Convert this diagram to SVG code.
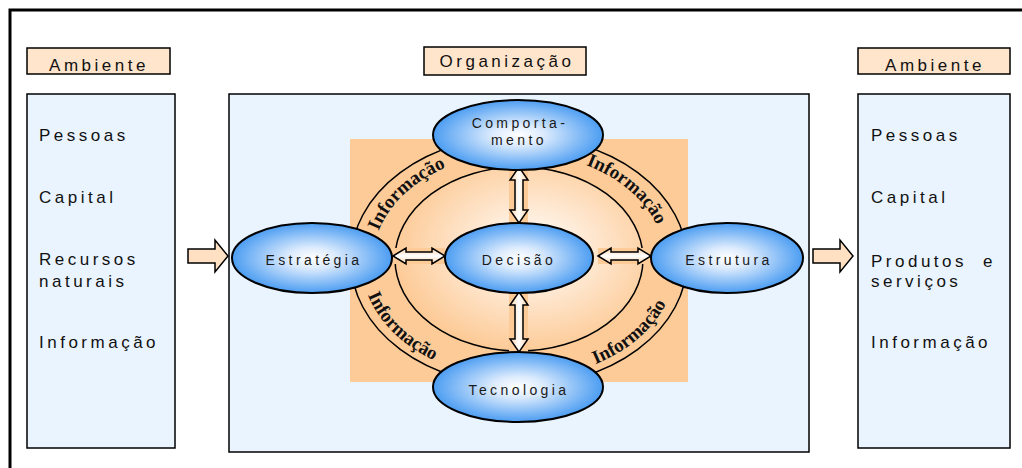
<svg xmlns="http://www.w3.org/2000/svg" width="1022" height="468" viewBox="0 0 1022 468">
<defs>
<radialGradient id="blue" cx="50%" cy="50%" r="50%">
<stop offset="0" stop-color="#ffffff"/>
<stop offset="0.3" stop-color="#dcebfd"/>
<stop offset="1" stop-color="#4c9df2"/>
</radialGradient>
<radialGradient id="peachIn" cx="55%" cy="45%" r="55%">
<stop offset="0" stop-color="#ffffff"/>
<stop offset="1" stop-color="#fdcb98"/>
</radialGradient>
<linearGradient id="arrV" x1="0" y1="0" x2="1" y2="0">
<stop offset="0" stop-color="#fcd2a8"/>
<stop offset="0.5" stop-color="#ffffff"/>
<stop offset="1" stop-color="#fcd2a8"/>
</linearGradient>
<linearGradient id="arrH" x1="0" y1="0" x2="0" y2="1">
<stop offset="0" stop-color="#fcd2a8"/>
<stop offset="0.5" stop-color="#ffffff"/>
<stop offset="1" stop-color="#fcd2a8"/>
</linearGradient>
<path id="tl" d="M375.2,279.8 A146,108 0 0 1 493.7,154.6"/>
<path id="tr" d="M536.8,153.8 A146,108 0 0 1 663.9,274.2"/>
<path id="bl" d="M363.9,238.5 A158,118 0 0 0 488.9,376.8"/>
<path id="br" d="M538.3,378.1 A158,118 0 0 0 675.8,246.6"/>
</defs>
<style>
.box{fill:#eaf4fe;stroke:#000;stroke-width:1.5}
.lbl{fill:#ffe5cc;stroke:#000;stroke-width:1.5}
.t{font-family:"Liberation Sans",Arial,sans-serif;font-size:17px;letter-spacing:3.5px;fill:#111}
.lt{font-family:"Liberation Sans",Arial,sans-serif;font-size:17px;letter-spacing:3.5px;fill:#111;text-anchor:middle}
.node{fill:url(#blue);stroke:#000;stroke-width:2}
.nt{font-family:"Liberation Sans",Arial,sans-serif;font-size:14px;letter-spacing:3.4px;fill:#1a1a1a;text-anchor:middle}
.info{font-family:"Liberation Serif","Times New Roman",serif;font-size:19px;font-weight:bold;fill:#111}
.ring{fill:none;stroke:#000;stroke-width:1.5}
.blk{fill:#ffe0c2;stroke:#000;stroke-width:1.5}
.dv{fill:url(#arrV);stroke:#000;stroke-width:1.5}
.dh{fill:url(#arrH);stroke:#000;stroke-width:1.5}
.bg{fill:#fdcb98}
</style>
<path d="M10,468 V10 H1022" fill="none" stroke="#000" stroke-width="3"/>

<g id="ambiente-in">
<rect class="lbl" x="27" y="48" width="143" height="26"/>
<text class="lt" x="99" y="71">Ambiente</text>
<rect class="box" x="27" y="94" width="148" height="354"/>
<text class="t" x="39" y="141">Pessoas</text>
<text class="t" x="39" y="203">Capital</text>
<text class="t" x="39" y="265">Recursos</text>
<text class="t" x="39" y="287">naturais</text>
<text class="t" x="39" y="348">Informação</text>
</g>

<g id="organizacao">
<rect class="lbl" x="424" y="47" width="162" height="28"/>
<text class="lt" x="507" y="67">Organização</text>
<rect class="box" x="229" y="94" width="580" height="358"/>
<rect class="bg" x="350" y="139" width="338" height="243"/>
<ellipse cx="519" cy="261" rx="168" ry="125" class="ring" fill="#fdcb98"/>
<ellipse cx="519" cy="259" rx="124" ry="92" class="ring" style="fill:url(#peachIn)"/>
<text class="info"><textPath href="#tl" startOffset="50%" text-anchor="middle">Informação</textPath></text>
<text class="info"><textPath href="#tr" startOffset="50%" text-anchor="middle">Informação</textPath></text>
<text class="info"><textPath href="#bl" startOffset="50%" text-anchor="middle">Informação</textPath></text>
<text class="info"><textPath href="#br" startOffset="50%" text-anchor="middle">Informação</textPath></text>
</g>

<g id="ambiente-out">
<rect class="lbl" x="858" y="48" width="152" height="26"/>
<text class="lt" x="935" y="71">Ambiente</text>
<rect class="box" x="858" y="94" width="152" height="354"/>
<text class="t" x="871" y="141">Pessoas</text>
<text class="t" x="871" y="203">Capital</text>
<text class="t" x="871" y="267"><tspan>Produtos</tspan><tspan x="983">e</tspan></text>
<text class="t" x="871" y="287">serviços</text>
<text class="t" x="871" y="348">Informação</text>
</g>

<g id="connectors">
<polygon class="blk" points="188,249 215,249 215,240 228,256 215,272 215,263 188,263"/>
<polygon class="blk" points="813,249 840,249 840,240 853,256 840,272 840,263 813,263"/>
<rect class="bg" x="509" y="167" width="19" height="56"/>
<polygon class="dv" points="519,167 528,180 523,180 523,210 528,210 519,223 510,210 515,210 515,180 510,180"/>
<rect class="bg" x="509" y="292" width="19" height="60"/>
<polygon class="dv" points="519,292 528,305 523,305 523,339 528,339 519,352 510,339 515,339 515,305 510,305"/>
<rect class="bg" x="393" y="248" width="52" height="16"/>
<polygon class="dh" points="393,256 406,248 406,252 432,252 432,248 445,256 432,264 432,260 406,260 406,264"/>
<rect class="bg" x="598" y="248" width="53" height="16"/>
<polygon class="dh" points="598,256 611,248 611,252 638,252 638,248 651,256 638,264 638,260 611,260 611,264"/>
</g>

<g id="comportamento">
<ellipse class="node" cx="518" cy="135" rx="85" ry="35"/>
<text class="nt" x="520" y="128">Comporta-</text>
<text class="nt" x="519" y="145">mento</text>
</g>
<g id="decisao">
<ellipse class="node" cx="519" cy="258" rx="74" ry="35"/>
<text class="nt" x="519" y="265">Decisão</text>
</g>
<g id="tecnologia">
<ellipse class="node" cx="518" cy="387" rx="85" ry="35"/>
<text class="nt" x="519" y="395">Tecnologia</text>
</g>
<g id="estrategia">
<ellipse class="node" cx="312" cy="258" rx="80" ry="35"/>
<text class="nt" x="314" y="265">Estratégia</text>
</g>
<g id="estrutura">
<ellipse class="node" cx="727" cy="258" rx="76" ry="35"/>
<text class="nt" x="729" y="265">Estrutura</text>
</g>
</svg>
